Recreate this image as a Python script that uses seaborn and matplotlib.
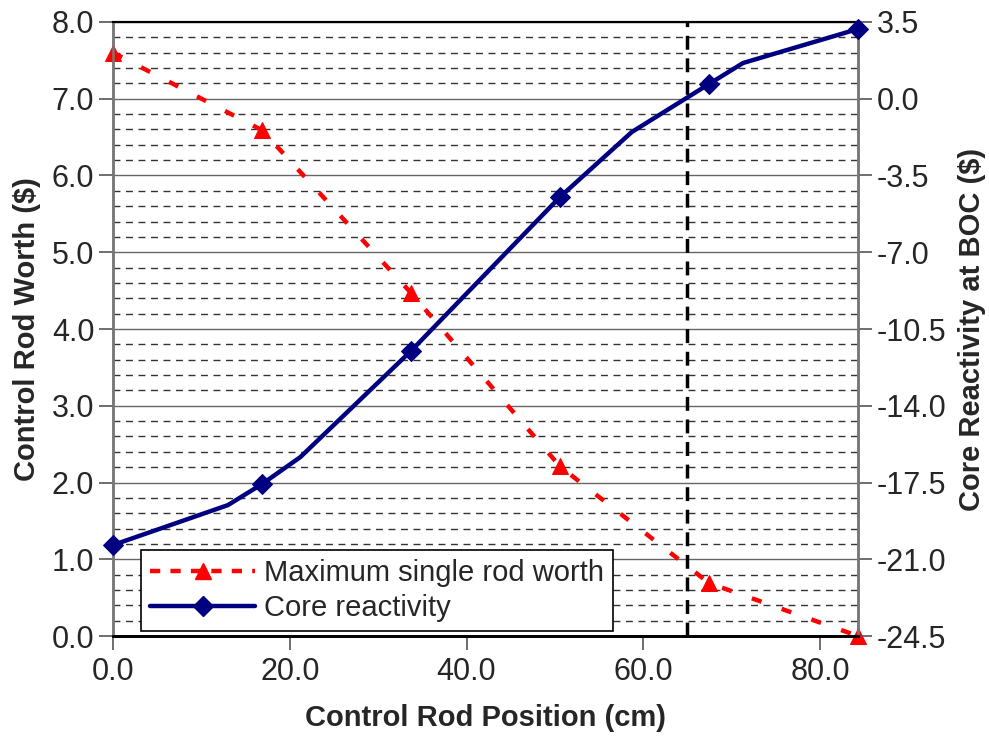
import matplotlib
matplotlib.use("Agg")
import matplotlib.pyplot as plt
import seaborn as sns
import numpy as np
from matplotlib.ticker import FormatStrFormatter
from matplotlib.lines import Line2D

# ---- data ----
rod_pos = [0.0, 16.86, 33.72, 50.58, 67.44, 84.3]
rod_worth = [7.60, 6.59, 4.47, 2.21, 0.69, 0.0]

core_pos = [0.0, 13.0, 16.86, 21.2, 33.72, 50.58, 58.7, 67.44, 71.3, 84.3]
core_react = [-20.35, -18.53, -17.57, -16.34, -11.5, -4.48, -1.52, 0.67, 1.63, 3.18]
core_marker_idx = [0, 2, 4, 5, 7, 9]

limit_pos = 65.0

x_ticks = [0, 20, 40, 60, 80]
left_ticks = [0, 1, 2, 3, 4, 5, 6, 7, 8]
right_ticks = [-24.5, -21.0, -17.5, -14.0, -10.5, -7.0, -3.5, 0.0, 3.5]

sns.set_theme(style="white")
plt.rcParams['font.family'] = ['Liberation Sans', 'DejaVu Sans']
plt.rcParams['axes.unicode_minus'] = False

fig = plt.figure(figsize=(9.89, 7.40), dpi=100)
ax = fig.add_axes([0.1143, 0.1405, 0.7532, 0.8298])
ax2 = ax.twinx()

# grid
for v in np.arange(0, 8.01, 0.2):
    if abs(v - round(v)) < 1e-6:
        ax.axhline(v, color='#666666', lw=1.0, zorder=0)
    else:
        ax.axhline(v, color='#333333', lw=1.0, ls=(0, (5, 4)), zorder=0)

# vertical limit line
ax.axvline(limit_pos, color='black', lw=2.5, ls=(0, (4, 2.5)), zorder=1)

# red series
sns.lineplot(x=rod_pos, y=rod_worth, ax=ax, color='#ff0000', lw=3.2,
             marker='^', markersize=12, markeredgecolor='#ff0000',
             dashes=False, zorder=3, clip_on=False)
ln_red = ax.lines[-1]
ln_red.set_linestyle((0, (2.3, 4.8)))

# blue series
sns.lineplot(x=core_pos, y=core_react, ax=ax2, color='#000080', lw=3.2,
             marker='D', markersize=10, markeredgecolor='#000080',
             markevery=core_marker_idx, zorder=3, clip_on=False)

ax.set_xlim(0, 84.3)
ax.set_ylim(0, 8)
ax2.set_ylim(-24.5, 3.5)

ax.set_xticks(x_ticks)
ax.xaxis.set_major_formatter(FormatStrFormatter('%.1f'))
ax.set_yticks(left_ticks)
ax.yaxis.set_major_formatter(FormatStrFormatter('%.1f'))
ax2.set_yticks(right_ticks)
ax2.yaxis.set_major_formatter(FormatStrFormatter('%.1f'))

fs = 21
tfs = 22
ax.tick_params(axis='both', labelsize=tfs, direction='out', length=10, width=1.2,
               color='#555555', left=True, bottom=True)
ax.tick_params(axis='x', pad=5)
ax2.tick_params(axis='y', labelsize=tfs, direction='out', length=10, width=1.2,
                color='#555555', right=True)

ax.set_xlabel('Control Rod Position (cm)', fontsize=fs, fontweight='bold', labelpad=12)
ax.set_ylabel('Control Rod Worth ($)', fontsize=fs, fontweight='bold', labelpad=8)
ax2.set_ylabel('Core Reactivity at BOC ($)', fontsize=fs, fontweight='bold', labelpad=8)

for a in (ax, ax2):
    a.spines['top'].set_color('black')
    a.spines['top'].set_linewidth(1.5)
    a.spines['bottom'].set_color('black')
    a.spines['bottom'].set_linewidth(2.0)
    a.spines['left'].set_color('#777777')
    a.spines['left'].set_linewidth(1.8)
    a.spines['right'].set_color('#777777')
    a.spines['right'].set_linewidth(1.8)
    for s in a.spines.values():
        s.set_visible(True)

handles = [
    Line2D([], [], color='#ff0000', lw=3.2, ls=(0, (2.3, 2.3)), marker='^', markersize=12),
    Line2D([], [], color='#000080', lw=3.2, marker='D', markersize=10),
]
leg = ax2.legend(handles, ['Maximum single rod worth', 'Core reactivity'],
                 loc='lower left', bbox_to_anchor=(0.038, 0.008), fontsize=fs,
                 frameon=True, fancybox=False, framealpha=1, edgecolor='black',
                 borderpad=0.3, labelspacing=0.25, handlelength=3.6,
                 handletextpad=0.3, borderaxespad=0)
leg.get_frame().set_linewidth(1.2)
leg.set_zorder(10)

fig.savefig('out.png', dpi=100)
